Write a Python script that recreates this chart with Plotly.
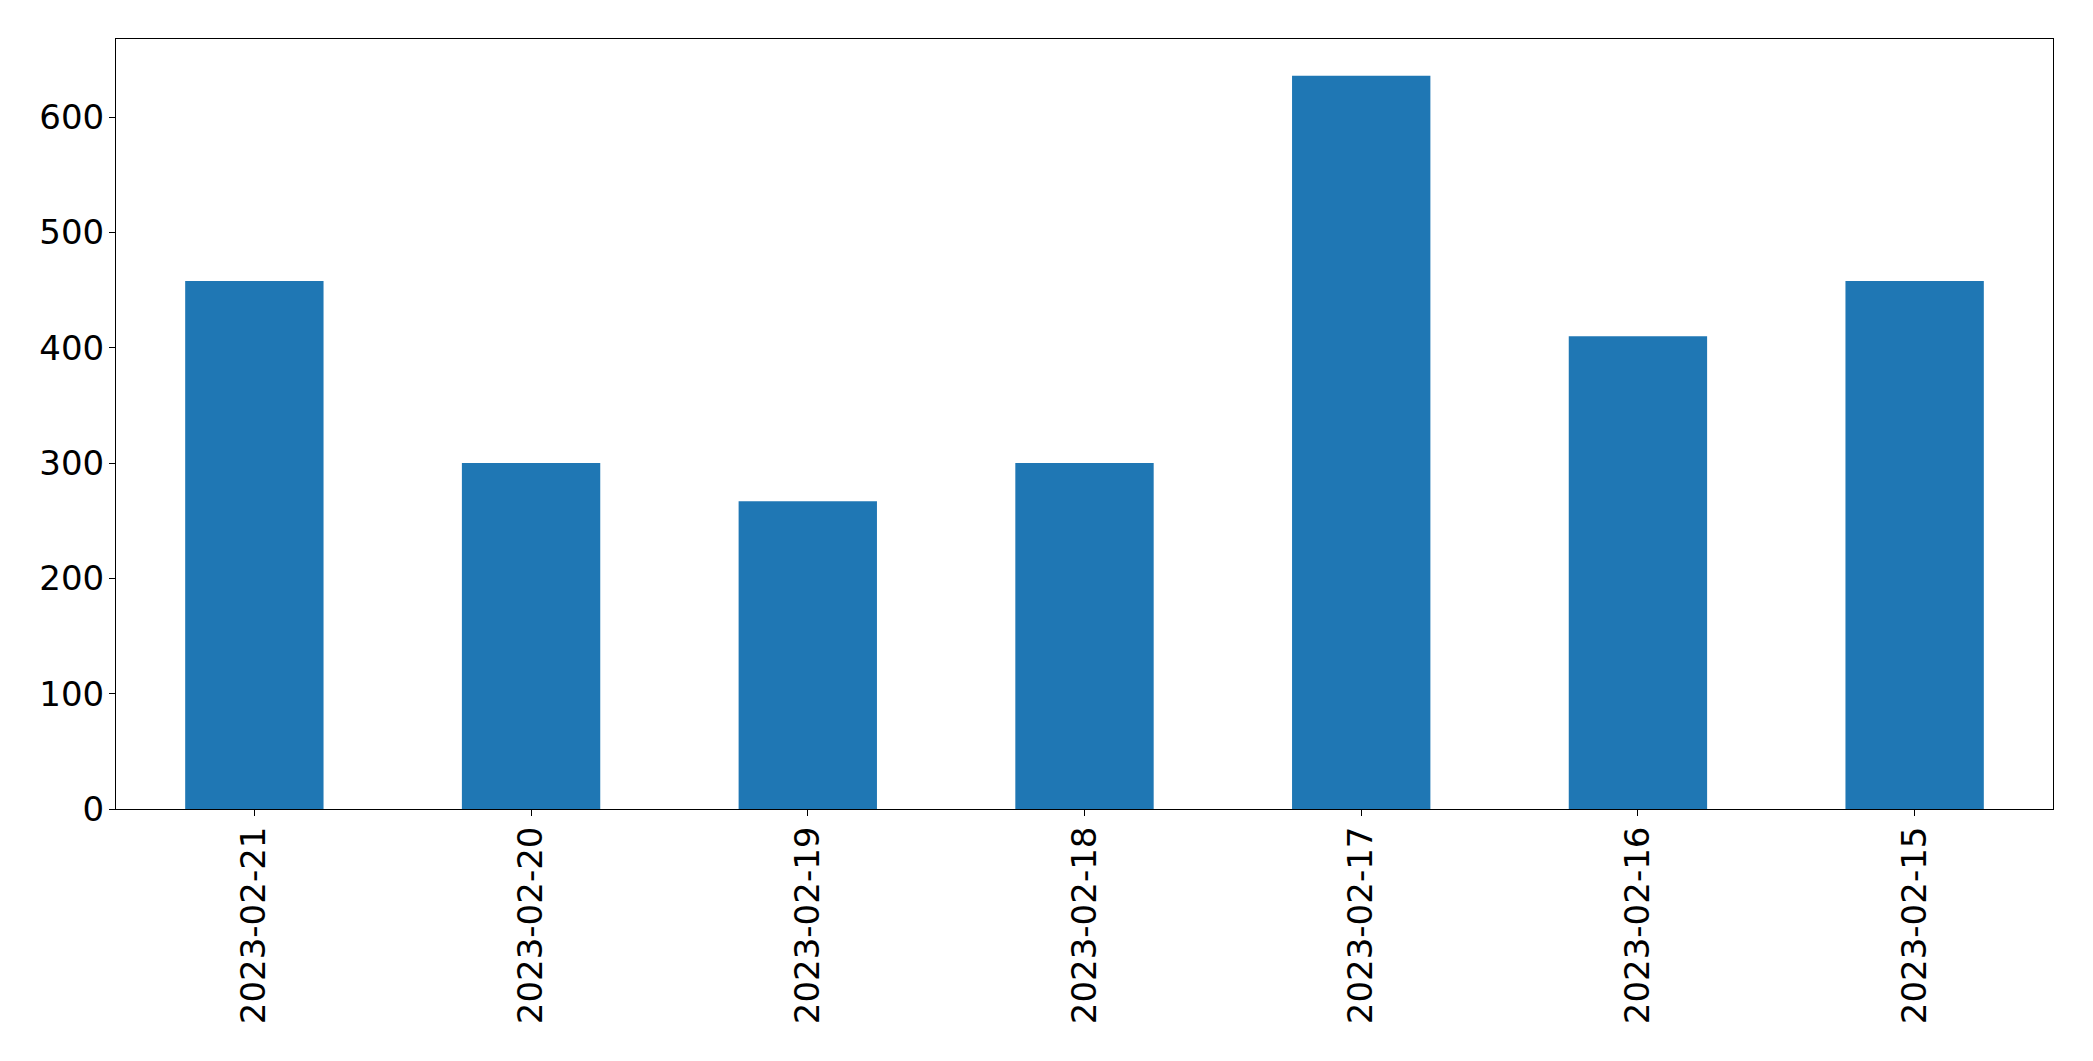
import plotly.graph_objects as go

dates = ["2023-02-21", "2023-02-20", "2023-02-19", "2023-02-18",
         "2023-02-17", "2023-02-16", "2023-02-15"]
values = [458, 300, 267, 300, 636, 410, 458]

fig = go.Figure()
fig.add_trace(go.Bar(x=dates, y=values, marker=dict(color="#1f77b4", line=dict(width=0)),
                     showlegend=False))

fig.update_layout(
    width=2093, height=1061,
    margin=dict(l=108, r=48, t=31, b=260, pad=0),
    paper_bgcolor="white", plot_bgcolor="white",
    bargap=0.5,
    font=dict(family="DejaVu Sans", size=34, color="black"),
)
fig.update_xaxes(
    type="category", range=[-0.5, 6.5], tickangle=-90,
    showline=True, linecolor="black", linewidth=1, mirror=True,
    ticks="outside", ticklen=6, tickwidth=1, tickcolor="black",
    showgrid=False, zeroline=False, ticklabelstandoff=-3,
    tickfont=dict(family="DejaVu Sans", size=34, color="black"),
)
fig.update_yaxes(
    range=[0, 667.8], tickvals=[0, 100, 200, 300, 400, 500, 600],
    showline=True, linecolor="black", linewidth=1, mirror=True,
    ticks="outside", ticklen=6, tickwidth=1, tickcolor="black",
    showgrid=False, zeroline=False, ticklabelstandoff=-2,
    tickfont=dict(family="DejaVu Sans", size=34, color="black"),
)

fig.write_html("out.html")
